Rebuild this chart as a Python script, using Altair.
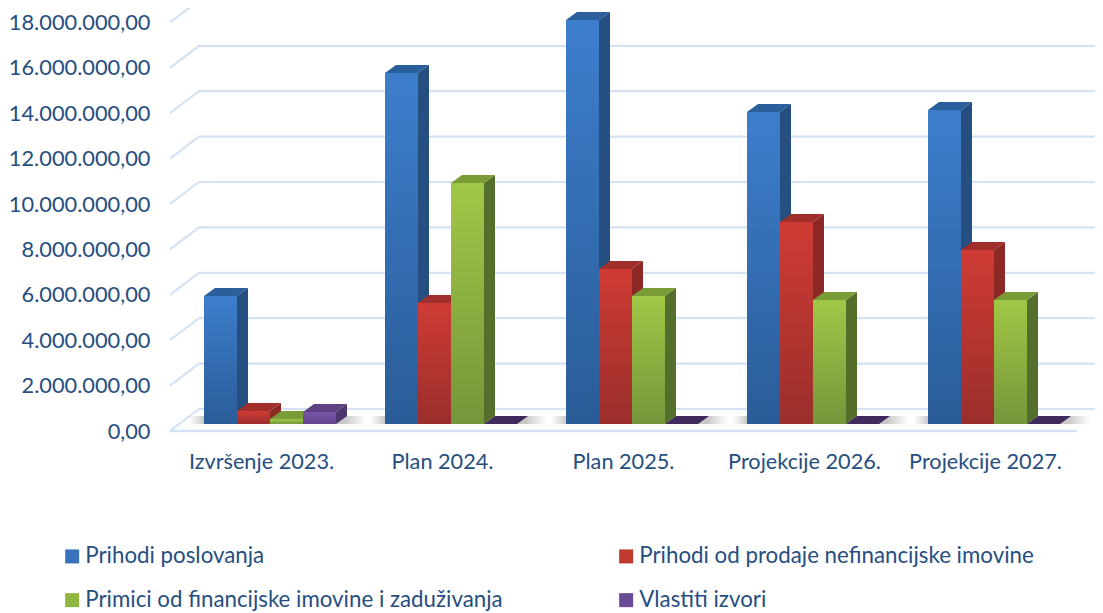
import altair as alt
import pandas as pd

categories = ["Izvršenje 2023.", "Plan 2024.", "Plan 2025.", "Projekcije 2026.", "Projekcije 2027."]
series_names = ["Prihodi poslovanja", "Prihodi od prodaje nefinancijske imovine",
                "Primici od financijske imovine i zaduživanja", "Vlastiti izvori"]
prihodi_poslovanja = [5640000, 15460000, 17800000, 13740000, 13830000]
prihodi_prodaja = [570000, 5330000, 6830000, 8900000, 7670000]
primici = [220000, 10620000, 5640000, 5460000, 5460000]
vlastiti = [530000, 0, 0, 0, 0]
tick_values = list(range(0, 18000001, 2000000))

series_values = [prihodi_poslovanja, prihodi_prodaja, primici, vlastiti]
legend_colors = ["#3a73bd", "#c0392f", "#8fb63f", "#6b4a96"]
front_top = ["#3d7ecc", "#cf3b34", "#a0c847", "#7c55aa"]
front_bottom = ["#2a5c98", "#9a2e2b", "#75963a", "#60448c"]
side_colors = ["#244f80", "#8c2926", "#546e2b", "#4d3669"]
top_colors = ["#2b5f9c", "#a02e2a", "#7a9c37", "#5f4282"]
zero_top = "#3f2a5c"

INK = "#264e7f"
FONT = "Lato"
GRID = "#d5e2f3"

# scale geometry: one x unit is a bar width, y scale is the chart value
W, H = 925, 437
X_DOM = [-34 / 33, (W - 34) / 33]
Y_DOM = [-925000, 18326000]
STEP = 181 / 33
DX = 1 / 3
DV = 352000
LABEL_SHIFT = 57 / 33

xs = alt.Scale(domain=X_DOM, nice=False, zero=False)
ys = alt.Scale(domain=Y_DOM, nice=False, zero=False)

x_axis = alt.Axis(
    values=[LABEL_SHIFT + i * STEP for i in range(5)], grid=False, domain=False, ticks=False, title=None,
    labelExpr="%s[round((datum.value-%f)/%f)]" % (str(categories), LABEL_SHIFT, STEP),
    labelFont=FONT, labelFontSize=21.7, labelColor=INK, labelPadding=6)
y_axis = alt.Axis(
    values=tick_values, grid=False, domain=False, ticks=False, title=None,
    labelExpr="replace(replace(replace(format(datum.value,',.2f'),/,/g,'#'),/[.]/g,','),/#/g,'.')",
    labelFont=FONT, labelFontSize=21.8, labelColor=INK, labelPadding=20, labelOffset=7)


def xe(f="x"):
    return alt.X(f"{f}:Q", scale=xs, axis=x_axis)


def ye(f="y"):
    return alt.Y(f"{f}:Q", scale=ys, axis=y_axis)


fronts, sides, tops = [], [], []
for s, vals in enumerate(series_values):
    f_rows, s_rows, t_rows = [], [], []
    for g, v in enumerate(vals):
        x0 = g * STEP + s
        f_rows.append(dict(series=series_names[s], x=x0, x2=x0 + 1, y=v, y2=0))
        for xv, a, b in [(x0 + 1, v, 0), (x0 + 1 + DX, v + DV, DV)]:
            s_rows.append(dict(g=g, x=xv, y=a, y2=b))
        col = zero_top if v == 0 else top_colors[s]
        for xv, a, b in [(x0, v, v), (x0 + DX, v + DV, v), (x0 + 1, v + DV, v), (x0 + 1 + DX, v + DV, v + DV)]:
            t_rows.append(dict(g=g, x=xv, y=a, y2=b, fill=col))
    fronts.append(pd.DataFrame(f_rows))
    sides.append(pd.DataFrame(s_rows))
    tops.append(pd.DataFrame(t_rows))

# wall grid and floor
grid_rows = []
FRONT_D, BACK_D = -308000, 661000
for t in tick_values:
    grid_rows.append(dict(level=t, x=-34 / 33, y=t + FRONT_D))
    grid_rows.append(dict(level=t, x=-5 / 33, y=t + BACK_D))
    grid_rows.append(dict(level=t, x=X_DOM[1], y=t + BACK_D))
grid = alt.Chart(pd.DataFrame(grid_rows)).mark_line(color=GRID, strokeWidth=2.2).encode(
    x=xe(), y=ye(), detail="level:N",
)
floor_front = alt.Chart(pd.DataFrame(dict(x=[-34 / 33, 873 / 33], y=[FRONT_D, FRONT_D]))).mark_line(
    color=GRID, strokeWidth=2.6).encode(x=xe(), y=ye())

# soft floor shadows
shadow_l = pd.DataFrame([dict(x=g * STEP - 0.45, x2=g * STEP, y=0, y2=DV) for g in range(5)])
shadow_r = pd.DataFrame([dict(x=g * STEP + 4, x2=g * STEP + 4 + DX + 0.6, y=0, y2=DV) for g in range(5)])
FADE = "rgba(190,190,190,0)"
DARK = "rgba(170,170,170,0.65)"
grad_l = alt.LinearGradient(gradient="linear", x1=0, x2=1, y1=0, y2=0,
                            stops=[alt.GradientStop(color=FADE, offset=0),
                                   alt.GradientStop(color=DARK, offset=1)])
grad_r = alt.LinearGradient(gradient="linear", x1=0, x2=1, y1=0, y2=0,
                            stops=[alt.GradientStop(color=DARK, offset=0),
                                   alt.GradientStop(color=DARK, offset=0.3),
                                   alt.GradientStop(color=FADE, offset=1)])
sh_l = alt.Chart(shadow_l).mark_rect(color=grad_l).encode(x=xe(), x2="x2:Q", y=ye(), y2="y2:Q")
sh_r = alt.Chart(shadow_r).mark_rect(color=grad_r).encode(x=xe(), x2="x2:Q", y=ye(), y2="y2:Q")

# flat bars carry the legend, the shaded faces sit on top of them
flat = alt.Chart(pd.concat(fronts)).mark_rect().encode(
    x=xe(), x2="x2:Q", y=ye(), y2="y2:Q",
    color=alt.Color("series:N", scale=alt.Scale(domain=series_names, range=legend_colors),
                    legend=alt.Legend(orient="none", legendX=-109, legendY=537, direction="horizontal",
                                      columns=2, title=None, symbolType="square", symbolSize=196,
                                      symbolStrokeWidth=0, labelFont=FONT, labelFontSize=22.3,
                                      labelColor=INK, labelLimit=600, columnPadding=112, rowPadding=21,
                                      symbolOffset=0, labelOffset=2)),
)

faces = []
for s in range(4):
    grad = alt.LinearGradient(gradient="linear", x1=0, x2=0, y1=0, y2=1,
                              stops=[alt.GradientStop(color=front_top[s], offset=0),
                                     alt.GradientStop(color=front_bottom[s], offset=1)])
    faces.append(alt.Chart(sides[s]).mark_area(color=side_colors[s]).encode(
        x=xe(), y=ye(), y2="y2:Q", detail="g:N"))
    faces.append(alt.Chart(tops[s]).mark_area().encode(
        x=xe(), y=ye(), y2="y2:Q", detail="g:N",
        color=alt.Color("fill:N", scale=None)))
    faces.append(alt.Chart(fronts[s]).mark_rect(color=grad).encode(
        x=xe(), x2="x2:Q", y=ye(), y2="y2:Q"))

chart = alt.layer(grid, floor_front, sh_l, sh_r, flat, *faces).properties(
    width=W, height=H,
    padding={"left": 162, "top": 0, "right": 0, "bottom": 168},
    autosize=alt.AutoSizeParams(type="none"),
).configure_view(stroke=None)

chart.save("out.html", embed_options={"renderer": "svg", "actions": False})
